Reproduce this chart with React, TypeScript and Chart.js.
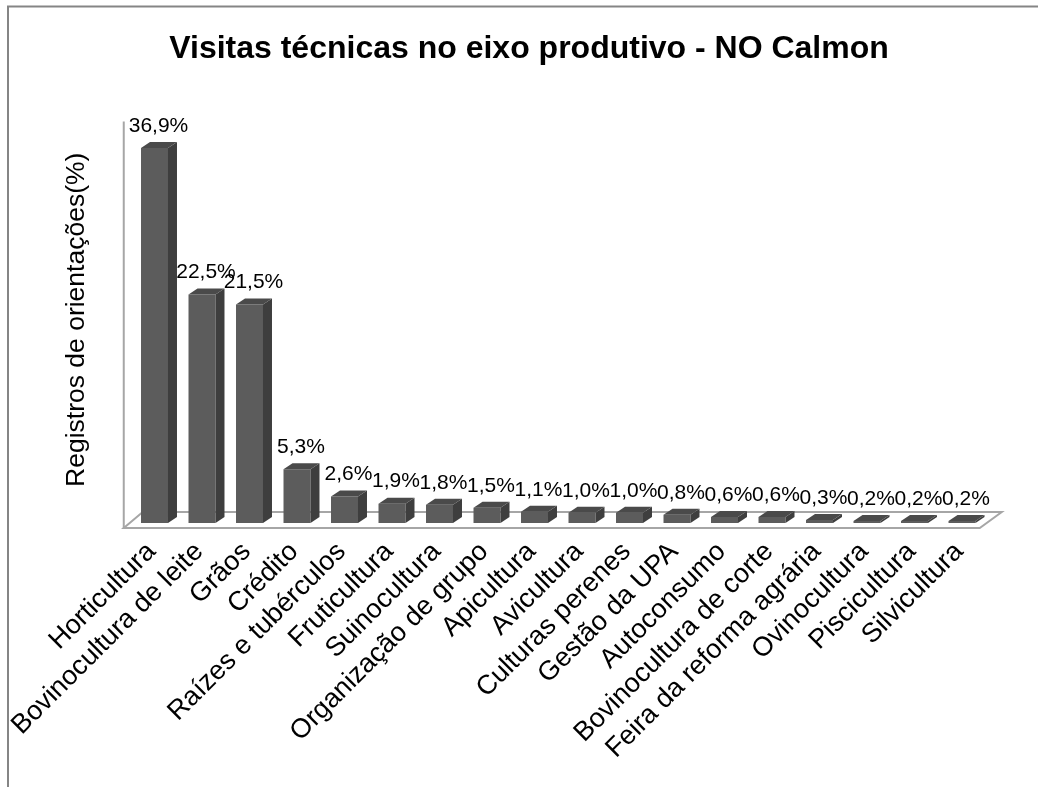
import { useEffect, useRef } from "react";
import { Chart, registerables } from "chart.js";

Chart.register(...registerables);

// Share of technical-guidance records per productive area (%)
const categories = [
  "Horticultura",
  "Bovinocultura de leite",
  "Grãos",
  "Crédito",
  "Raízes e tubérculos",
  "Fruticultura",
  "Suinocultura",
  "Organização de grupo",
  "Apicultura",
  "Avicultura",
  "Culturas perenes",
  "Gestão da UPA",
  "Autoconsumo",
  "Bovinocultura de corte",
  "Feira da reforma agrária",
  "Ovinocultura",
  "Piscicultura",
  "Silvicultura",
];

const shares = [
  36.9, 22.5, 21.5, 5.3, 2.6, 1.9, 1.8, 1.5, 1.1, 1.0, 1.0, 0.8, 0.6, 0.6, 0.3,
  0.2, 0.2, 0.2,
];

const TITLE = "Visitas técnicas no eixo produtivo - NO Calmon";
const Y_TITLE = "Registros de orientações(%)";

const FONT = '"Liberation Sans", Arial, sans-serif';
const FRONT = "#5c5c5c";
const SIDE = "#3e3e3e";
const TOP = "#4a4a4a";
const EDGE = "#a6a6a6";
const DEPTH_X = 9;
const DEPTH_Y = 6;

const W = 1038;
const H = 787;

const fmt = (v: number) => v.toFixed(1).replace(".", ",") + "%";

// Fakes the 3D column look: floor and wall edges behind the bars,
// side/top faces plus value labels after them, title and frame on top.
const columns3d = {
  id: "columns3d",
  beforeDatasetsDraw(chart: any) {
    const { ctx, chartArea } = chart;
    const { left: L, right: R, top: T, bottom: B } = chartArea;
    ctx.save();
    ctx.strokeStyle = EDGE;
    ctx.lineWidth = 2;
    // side wall edge
    ctx.beginPath();
    ctx.moveTo(L - 7, T + 5);
    ctx.lineTo(L - 7, B + 5);
    ctx.stroke();
    // floor
    ctx.beginPath();
    ctx.moveTo(L - 7, B + 5);
    ctx.lineTo(R - 6, B + 5);
    ctx.lineTo(R + 16, B - 11);
    ctx.lineTo(L + 12, B - 11);
    ctx.closePath();
    ctx.stroke();
    ctx.restore();
  },
  afterDatasetsDraw(chart: any) {
    const { ctx } = chart;
    const meta = chart.getDatasetMeta(0);
    ctx.save();
    meta.data.forEach((bar: any, i: number) => {
      const { x, y, base, width } = bar.getProps(["x", "y", "base", "width"], true);
      const l = x - width / 2;
      const r = x + width / 2;
      ctx.fillStyle = SIDE;
      ctx.beginPath();
      ctx.moveTo(r, y);
      ctx.lineTo(r + DEPTH_X, y - DEPTH_Y);
      ctx.lineTo(r + DEPTH_X, base - DEPTH_Y);
      ctx.lineTo(r, base);
      ctx.closePath();
      ctx.fill();
      ctx.fillStyle = TOP;
      ctx.beginPath();
      ctx.moveTo(l, y);
      ctx.lineTo(r, y);
      ctx.lineTo(r + DEPTH_X, y - DEPTH_Y);
      ctx.lineTo(l + DEPTH_X, y - DEPTH_Y);
      ctx.closePath();
      ctx.fill();

      ctx.fillStyle = "#000";
      ctx.font = `21px ${FONT}`;
      ctx.textAlign = "center";
      ctx.textBaseline = "middle";
      ctx.fillText(fmt(shares[i]), x + 4, y - 22);
    });
    ctx.restore();
  },
  afterDraw(chart: any) {
    const { ctx } = chart;
    ctx.save();
    ctx.fillStyle = "#000";
    ctx.font = `bold 32px ${FONT}`;
    ctx.textAlign = "center";
    ctx.textBaseline = "alphabetic";
    ctx.fillText(TITLE, 529, 58);

    ctx.strokeStyle = "#858585";
    ctx.lineWidth = 2;
    ctx.beginPath();
    ctx.moveTo(8, H);
    ctx.lineTo(8, 6.5);
    ctx.lineTo(W, 6.5);
    ctx.stroke();
    ctx.restore();
  },
};

export default function App() {
  const ref = useRef<HTMLCanvasElement | null>(null);

  useEffect(() => {
    document.body.style.margin = "0";
    const canvas = ref.current;
    if (!canvas) return;
    const chart = new Chart(canvas, {
      type: "bar",
      data: {
        labels: categories,
        datasets: [
          {
            data: shares,
            backgroundColor: FRONT,
            borderWidth: 0,
            barPercentage: 0.568,
            categoryPercentage: 1,
          },
        ],
      },
      options: {
        responsive: false,
        animation: false,
        devicePixelRatio: 1,
        layout: { padding: { left: 0, right: 52.25, top: 116.6, bottom: 0 } },
        plugins: {
          legend: { display: false },
          title: { display: false },
          tooltip: { enabled: false },
        },
        scales: {
          x: {
            grid: { display: false, drawTicks: false },
            border: { display: false },
            ticks: {
              autoSkip: false,
              minRotation: 45,
              maxRotation: 45,
              padding: 13,
              labelOffset: -3,
              color: "#000",
              font: { family: FONT, size: 27 },
            },
            afterFit: (s: any) => {
              s.height = H - 523;
            },
          },
          y: {
            min: 0,
            max: 40,
            grid: { display: false, drawTicks: false },
            border: { display: false },
            ticks: { display: false },
            title: {
              display: true,
              text: Y_TITLE,
              color: "#000",
              font: { family: FONT, size: 26.5 },
              padding: { top: 61, bottom: 0 },
            },
            afterFit: (s: any) => {
              s.width = 130.75;
            },
          },
        },
      },
      plugins: [columns3d],
    });
    return () => chart.destroy();
  }, []);

  return <canvas ref={ref} width={W} height={H} style={{ display: "block" }} />;
}
